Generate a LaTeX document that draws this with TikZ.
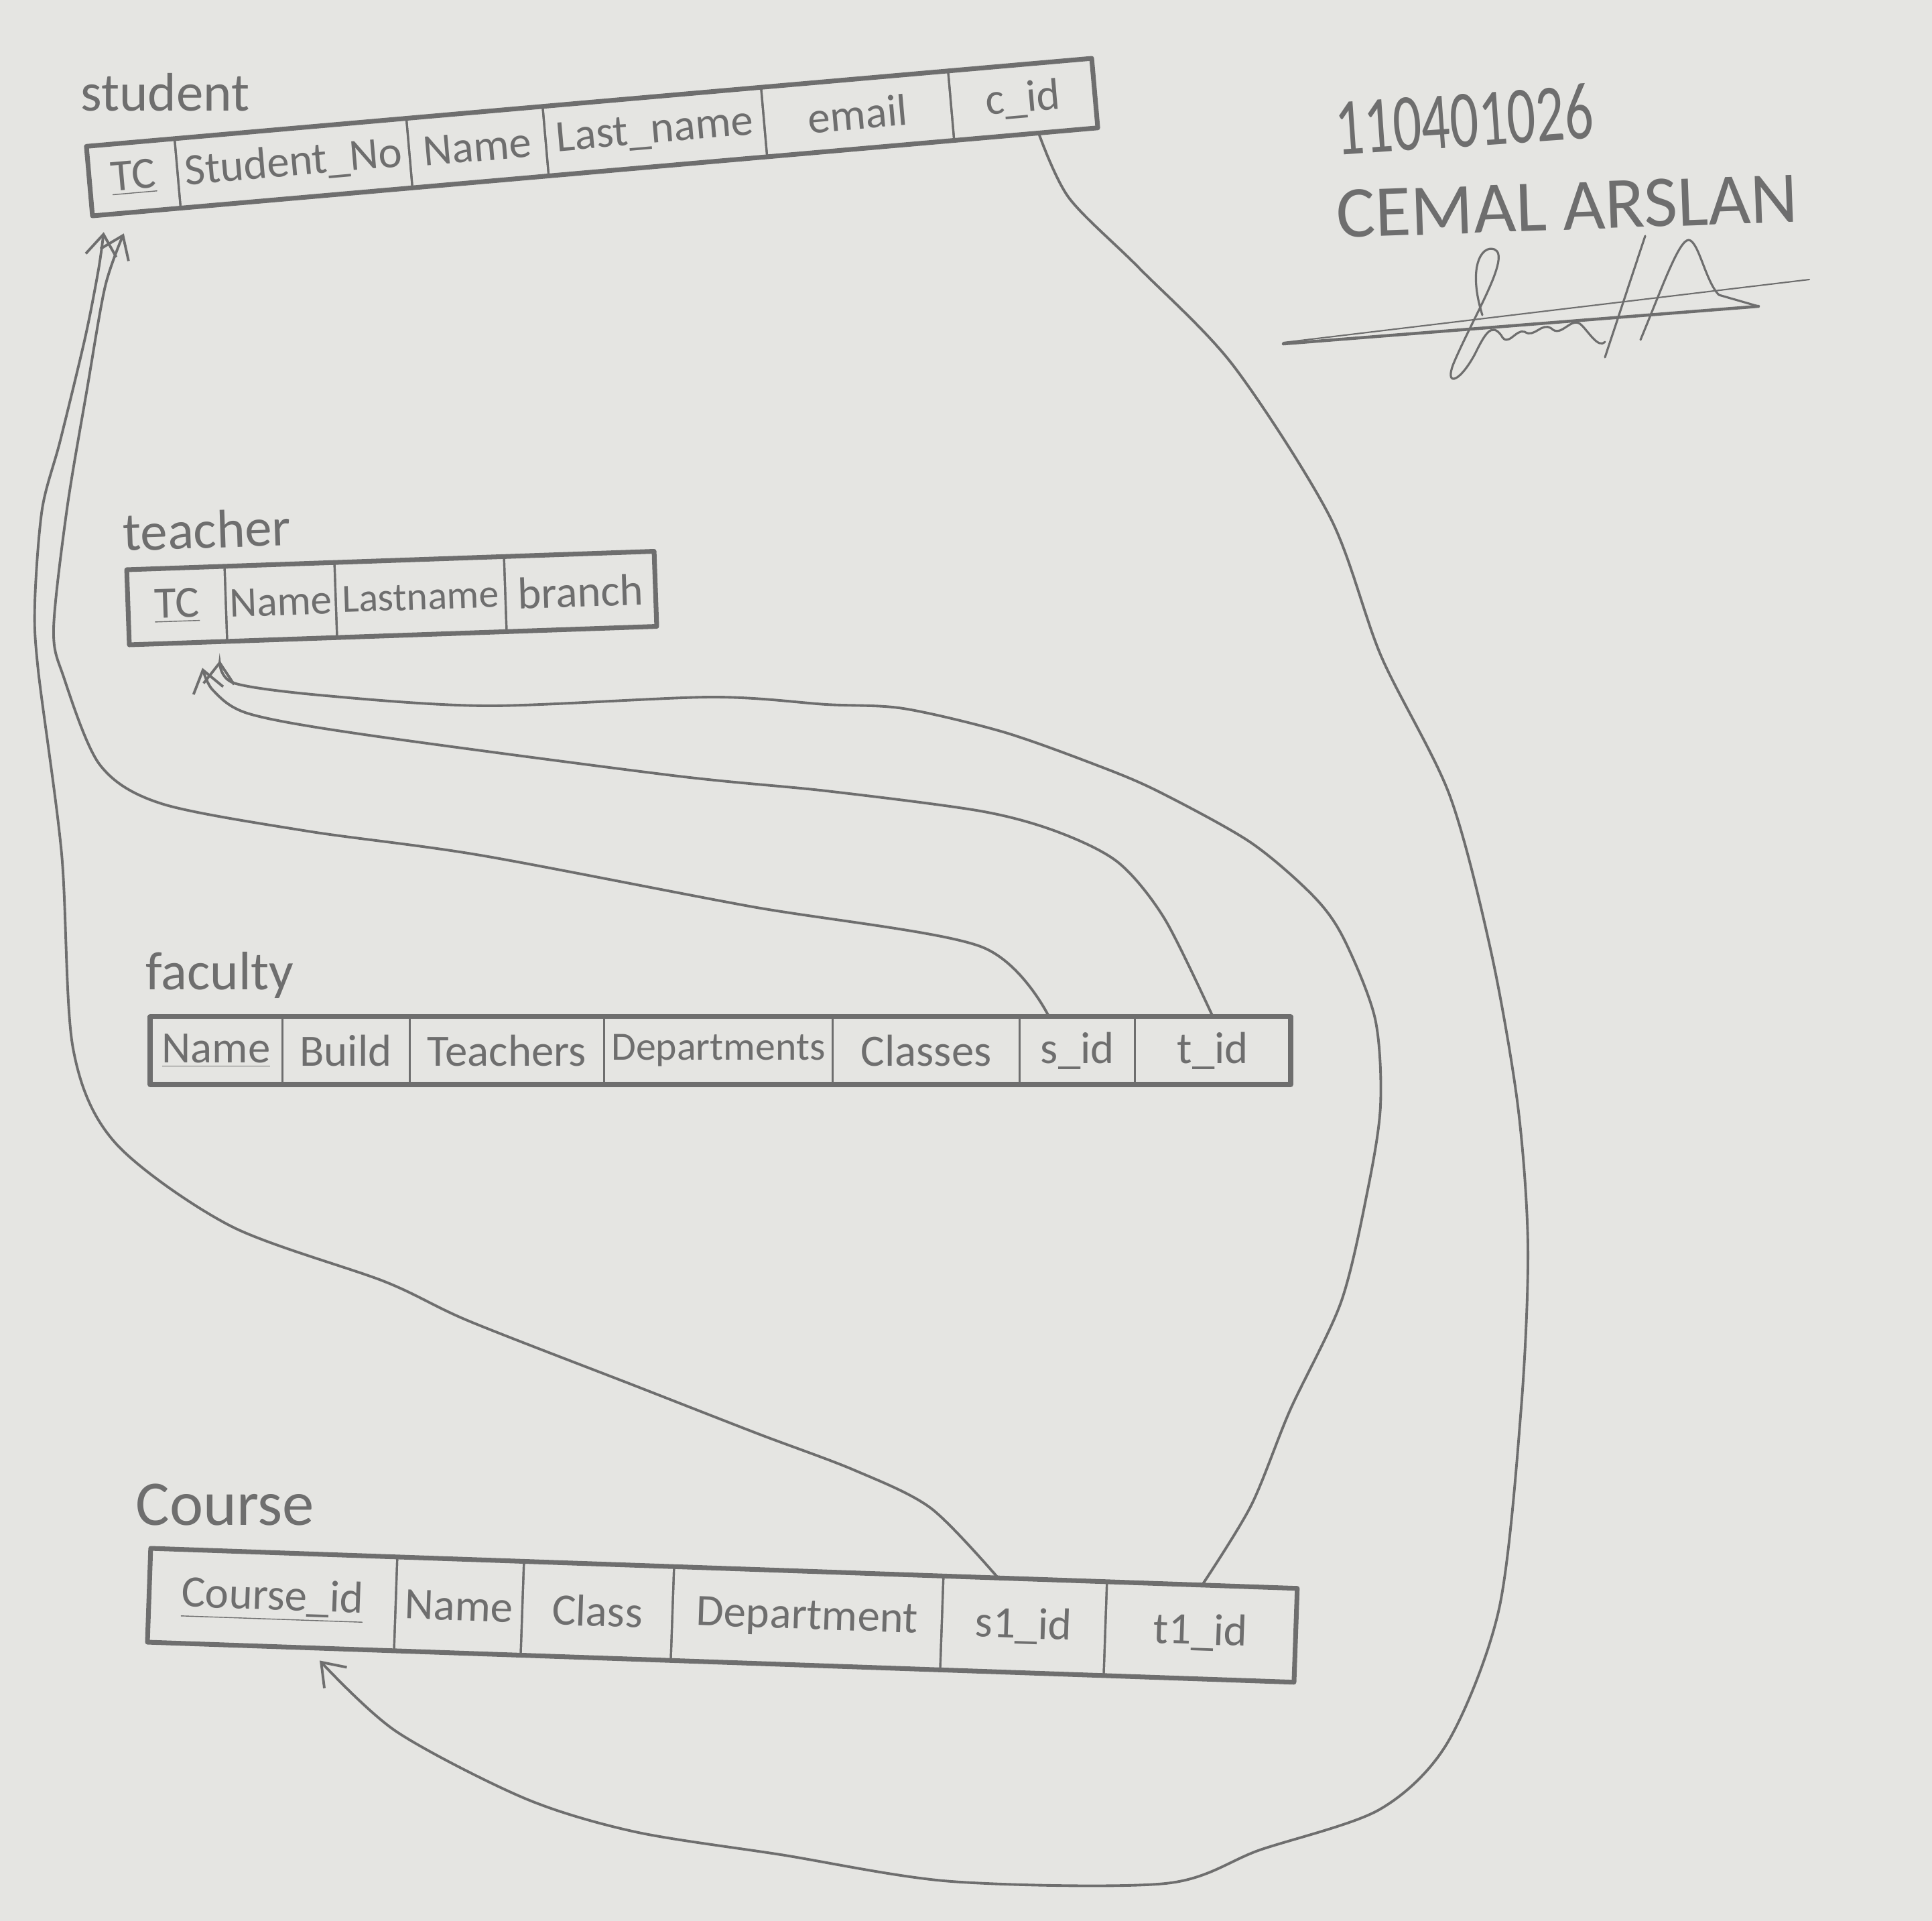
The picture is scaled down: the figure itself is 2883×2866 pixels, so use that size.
\documentclass[tikz,border=0pt]{standalone}
\usepackage{fontspec}
\setmainfont{Carlito}
\usetikzlibrary{positioning,calc,arrows.meta}

\definecolor{paper}{RGB}{229,229,226}
\definecolor{pencil}{RGB}{110,110,110}

\begin{document}
\begin{tikzpicture}[
  x=0.01cm, y=-0.01cm,
  font=\fontsize{19}{22}\selectfont,
  cell/.style={draw=pencil, line width=0.9pt, text=pencil, inner sep=1pt, outer sep=0pt, anchor=west},
  srow/.style={cell, rotate=5, minimum height=1.04cm},
  trow/.style={cell, rotate=2, minimum height=1.12cm},
  frow/.style={cell, minimum height=1.01cm},
  crow/.style={cell, rotate=-2, minimum height=1.40cm},
  frame/.style={draw=pencil, line width=2pt, line join=round},
  tname/.style={text=pencil, anchor=base west, inner sep=0pt, font=\fontsize{23}{26}\selectfont},
  small/.style={font=\fontsize{17}{20}\selectfont},
  fk/.style={draw=pencil, line width=1.1pt, -{Straight Barb[length=9pt,width=13pt,line width=1.1pt]}},
  pen/.style={draw=pencil, line width=0.9pt, line cap=round, line join=round}
]
\fill[paper] (0,0) rectangle (2883,2866);
\useasboundingbox (0,0) rectangle (2883,2866);

% student
\node[tname] (lStudent) at (120,165) {student};
\node[srow, anchor=south west, minimum width=1.32cm] (sTC) at (138,322) {\underline{TC}};
\node[srow, minimum width=3.47cm] (sNo) at (sTC.east) {Student\_No};
\node[srow, minimum width=2.04cm] (sName) at (sNo.east) {Name};
\node[srow, minimum width=3.27cm] (sLast) at (sName.east) {Last\_name};
\node[srow, minimum width=2.80cm] (sMail) at (sLast.east) {email};
\node[srow, minimum width=2.15cm] (sCid) at (sMail.east) {c\_id};
\draw[frame] (sTC.north west) -- (sCid.north east) -- (sCid.south east) -- (sTC.south west) -- cycle;

% teacher
\node[tname, rotate=2] (lTeacher) at (184,822) {teacher};
\node[trow, anchor=south west, minimum width=1.46cm] (tTC) at (193,962) {\underline{TC}};
\node[trow, minimum width=1.64cm, font=\fontsize{18}{21}\selectfont] (tName) at (tTC.east) {Name};
\node[trow, minimum width=2.53cm, small] (tLast) at (tName.east) {Lastname};
\node[trow, minimum width=2.24cm] (tBranch) at (tLast.east) {branch};
\draw[frame] (tTC.north west) -- (tBranch.north east) -- (tBranch.south east) -- (tTC.south west) -- cycle;

% faculty
\node[tname] (lFaculty) at (217,1476) {faculty};
\node[frow, anchor=south west, minimum width=1.97cm] (fName) at (224,1618) {\underline{Name}};
\node[frow, minimum width=1.90cm] (fBuild) at (fName.east) {Build};
\node[frow, minimum width=2.90cm] (fTeach) at (fBuild.east) {Teachers};
\node[frow, minimum width=3.41cm, small] (fDept) at (fTeach.east) {Departments};
\node[frow, minimum width=2.79cm] (fClass) at (fDept.east) {Classes};
\node[frow, minimum width=1.72cm] (fSid) at (fClass.east) {s\_id};
\node[frow, minimum width=2.32cm] (fTid) at (fSid.east) {t\_id};
\draw[frame] (fName.north west) -- (fTid.north east) -- (fTid.south east) -- (fName.south west) -- cycle;

% course
\node[tname, font=\fontsize{27}{30}\selectfont] (lCourse) at (202,2275) {Course};
\node[crow, anchor=south west, minimum width=3.68cm] (cCid) at (220,2450) {\underline{Course\_id}};
\node[crow, minimum width=1.89cm] (cName) at (cCid.east) {Name};
\node[crow, minimum width=2.24cm] (cClass) at (cName.east) {Class};
\node[crow, minimum width=4.02cm] (cDept) at (cClass.east) {Department};
\node[crow, minimum width=2.44cm] (cS1) at (cDept.east) {s1\_id};
\node[crow, minimum width=2.84cm] (cT1) at (cS1.east) {t1\_id};
\draw[frame] (cCid.north west) -- (cT1.north east) -- (cT1.south east) -- (cCid.south west) -- cycle;

% arrow tips under the keys
\coordinate (sTipA) at ($(sTC.south)+(-49,30)$);
\coordinate (sTipB) at ($(sTC.south)+(-19,32)$);
\coordinate (tTipA) at ($(tTC.south)+(36,37)$);
\coordinate (tTipB) at ($(tTC.south)+(62,26)$);
\coordinate (cTip) at ($(cCid.south)+(73,21)$);

% foreign keys
\draw[fk] plot[smooth] coordinates {(fSid.130) (1463,1412) (1118,1352) (717,1276) (459,1240) (241,1199) (149,1141) (95,1010) (80,938) (100,759) (130,580) (157,427) (sTipB)};
\draw[fk] plot[smooth] coordinates {(cS1.120) (1389,2250) (1274,2193) (1131,2139) (949,2068) (700,1971) (574,1912) (344,1829) (172,1705) (109,1564) (92,1274) (57,1000) (52,900) (63,759) (90,657) (127,504) (147,402) (sTipA)};
\draw[fk] plot[smooth] coordinates {(fTid.north) (1738,1371) (1669,1287) (1578,1241) (1463,1210) (1233,1180) (1004,1157) (544,1096) (372,1065) (318,1030) (tTipA)};
\draw[fk] plot[smooth] coordinates {(cT1.north) (1867,2246) (1925,2104) (2001,1943) (2040,1780) (2060,1650) (2052,1520) (2005,1400) (1959,1336) (1865,1256) (1727,1180) (1635,1141) (1497,1092) (1348,1057) (1233,1051) (1061,1040) (728,1053) (487,1038) (349,1019) (tTipB)};
\draw[fk] plot[smooth] coordinates {(sCid.-70) (1595,295) (1700,400) (1840,545) (1985,772) (2061,979) (2163,1186) (2225,1420) (2265,1650) (2280,1860) (2270,2100) (2237,2400) (2160,2600) (2058,2700) (1880,2760) (1739,2810) (1420,2807) (1165,2767) (948,2733) (783,2683) (591,2583) (cTip)};

% name and signature
\node[text=pencil, anchor=base west, inner sep=0pt, rotate=4, font=\fontsize{30}{34}\selectfont] (stuNo) at (1995,232) {\scalebox{0.8}[1.15]{110401026}};
\node[text=pencil, anchor=base west, inner sep=0pt, rotate=2, font=\fontsize{31}{34}\selectfont] (stuName) at (1995,355) {CEMAL ARSLAN};
\draw[pen, line width=1.3pt] (1915,513) -- (2624,457);
\draw[pen, line width=0.6pt] (1915,511) -- (2700,417);
\draw[pen] (2212,470) .. controls (2190,400) and (2210,365) .. (2230,372)
  .. controls (2255,382) and (2200,470) .. (2170,540)
  .. controls (2155,575) and (2175,575) .. (2200,530)
  .. controls (2215,500) and (2225,480) .. (2240,500)
  .. controls (2250,520) and (2262,490) .. (2275,495)
  .. controls (2290,505) and (2300,480) .. (2315,490)
  .. controls (2330,505) and (2345,470) .. (2360,485)
  .. controls (2372,497) and (2385,520) .. (2395,510);
\draw[pen] (2395,533) -- (2455,352);
\draw[pen] (2448,507) .. controls (2480,430) and (2505,358) .. (2520,358)
  .. controls (2535,360) and (2545,420) .. (2565,440) -- (2624,457);
\end{tikzpicture}
\end{document}
